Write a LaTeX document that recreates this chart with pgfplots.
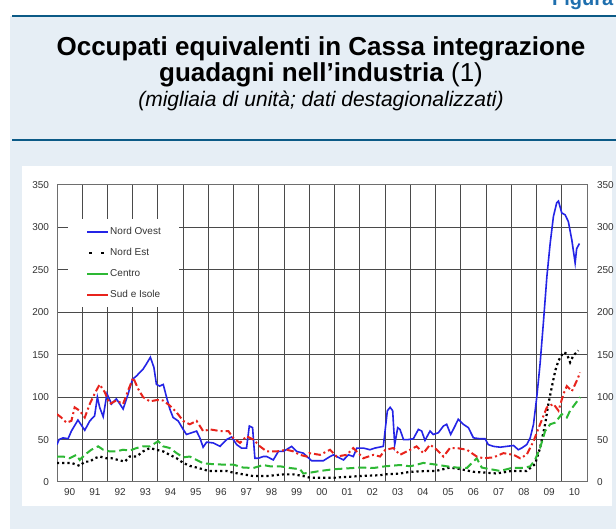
\documentclass[border=0pt]{standalone}
\usepackage{fontspec}
\setmainfont{Liberation Sans}
\usepackage{pgfplots}
\pgfplotsset{compat=1.18}
\definecolor{bgblue}{HTML}{E6EEF5}
\definecolor{rulec}{HTML}{0B5A86}
\definecolor{figblue}{HTML}{1F6FAE}
\definecolor{nordovest}{HTML}{2424E6}
\definecolor{centro}{HTML}{2DB834}
\definecolor{sud}{HTML}{E8231C}
\definecolor{gridc}{HTML}{4A4A4A}
\definecolor{labc}{HTML}{333333}

\begin{document}
\begin{tikzpicture}[x=1pt,y=1pt]
\useasboundingbox (0,0) rectangle (616,529);
\clip (0,0) rectangle (616,529);
\fill[white] (0,0) rectangle (616,529);
\fill[bgblue] (10,0) rectangle (616,513);
\draw[rulec, line width=2.2pt] (12,513) -- (616,513);
\draw[rulec, line width=2.2pt] (12,389) -- (616,389);
\fill[white] (22,23) rectangle (612,363);
\node[anchor=base west, inner sep=0pt, text=figblue, font=\fontsize{20}{22}\selectfont\bfseries] at (552,523) {Figura};

% titolo
\node[anchor=base, inner sep=0pt, font=\fontsize{26}{28}\selectfont\bfseries] at (321,473) {Occupati equivalenti in Cassa integrazione};
\node[anchor=base, inner sep=0pt, font=\fontsize{26}{28}\selectfont] at (321,447) {\textbf{guadagni nell’industria} (1)};
\node[anchor=base, inner sep=0pt, font=\fontsize{21}{24}\selectfont\itshape] at (321,422) {(migliaia di unità; dati destagionalizzati)};

\begin{axis}[
  at={(57pt,47pt)}, anchor=south west,
  scale only axis, width=530pt, height=297pt,
  xmin=1990, xmax=2011, ymin=0, ymax=350,
  xtick={1990,1991,...,2011}, xticklabels={},
  minor x tick num=3,
  extra x ticks={1990.5,1991.5,...,2010.5},
  extra x tick labels={90,91,92,93,94,95,96,97,98,99,00,01,02,03,04,05,06,07,08,09,10},
  extra x tick style={grid=none, major tick length=0pt},
  ytick={0,50,...,350},
  xmajorgrids, ymajorgrids,
  grid style={gridc, line width=1pt},
  axis line style={gridc!80, line width=1pt},
  tick style={gridc, line width=0.7pt},
  major tick length=0pt, minor tick length=2.5pt,
  tick align=inside, tick pos=left,
  ticklabel style={font=\fontsize{10}{12}\selectfont, text=labc},
  /pgf/number format/assume math mode=true,
  xticklabel style={yshift=-3pt},
  yticklabel style={xshift=-4.5pt},
  legend cell align=left,
  legend style={at={(0.0208,0.8855)}, anchor=north west, fill=white, draw=none,
    inner xsep=18pt, inner ysep=8pt, row sep=12pt, column sep=1pt,
    font=\fontsize{10}{12}\selectfont, text=labc,
    nodes={inner sep=0pt, text height=7pt, text depth=2pt}},
]
\addplot[nordovest, line width=1.6pt,
  legend image code/.code={\draw[solid, nordovest, line width=1.6pt] (0pt,0pt) -- (21pt,0pt);}]
coordinates {
(1990.00,44) (1990.08,50) (1990.24,52) (1990.44,51) (1990.57,60) (1990.83,73) (1991.10,61) (1991.30,72) (1991.49,78) (1991.60,100) (1991.69,88) (1991.83,77) (1991.98,104) (1992.16,92) (1992.35,98) (1992.49,92) (1992.62,86) (1992.82,104) (1992.99,121) (1993.15,125) (1993.28,129) (1993.41,133) (1993.54,139) (1993.70,147) (1993.84,135) (1993.94,115) (1994.07,113) (1994.21,115) (1994.34,100) (1994.47,86) (1994.60,76) (1994.80,72) (1995.00,62) (1995.13,56) (1995.33,58) (1995.53,60) (1995.66,52) (1995.79,41) (1995.93,47) (1996.19,46) (1996.46,42) (1996.72,50) (1996.92,53) (1997.12,44) (1997.31,40) (1997.51,40) (1997.62,66) (1997.75,64) (1997.84,28) (1997.98,28) (1998.17,30) (1998.31,30) (1998.57,26) (1998.77,36) (1998.97,36) (1999.30,42) (1999.50,36) (1999.76,34) (2000.09,25) (2000.55,25) (2000.82,30) (2000.95,32) (2001.22,28) (2001.35,26) (2001.55,32) (2001.74,30) (2001.88,40) (2002.14,40) (2002.40,38) (2002.60,40) (2002.93,42) (2003.09,84) (2003.20,88) (2003.30,84) (2003.38,44) (2003.50,64) (2003.59,62) (2003.73,50) (2003.92,50) (2004.12,51) (2004.32,62) (2004.45,60) (2004.58,49) (2004.78,60) (2004.91,56) (2005.11,58) (2005.31,66) (2005.44,68) (2005.60,56) (2005.77,66) (2005.90,74) (2006.10,68) (2006.30,64) (2006.50,52) (2006.76,51) (2006.96,51) (2007.09,44) (2007.29,42) (2007.56,41) (2007.82,42) (2008.09,43) (2008.28,38) (2008.41,40) (2008.61,44) (2008.75,52) (2008.88,68) (2009.01,100) (2009.14,139) (2009.27,187) (2009.41,242) (2009.54,281) (2009.67,313) (2009.80,329) (2009.87,331) (2010.00,317) (2010.13,315) (2010.26,307) (2010.40,285) (2010.53,258) (2010.59,275) (2010.70,281)
};
\addlegendentry{Nord Ovest}
\addplot[black, line width=2.2pt, dash pattern=on 2.2pt off 3pt,
  legend image code/.code={\draw[solid, black, line width=2.2pt] (2pt,0pt) -- (4.5pt,0pt) (14pt,0pt) -- (16.5pt,0pt);}]
coordinates {
(1990.00,22.5) (1990.24,22.5) (1990.57,22.5) (1990.90,19) (1991.10,24) (1991.30,24) (1991.49,28) (1991.69,30) (1991.96,28) (1992.16,28) (1992.42,26) (1992.69,24) (1992.88,30) (1993.15,30) (1993.41,36) (1993.68,40) (1993.94,38) (1994.21,36) (1994.47,32) (1994.74,28) (1995.00,22.5) (1995.26,19) (1995.53,17) (1995.79,15) (1995.99,13) (1996.32,13) (1996.72,13) (1996.98,11) (1997.38,9) (1997.78,7) (1998.31,7) (1998.97,9) (1999.37,9) (1999.76,7) (2000.03,5) (2000.95,5) (2002.01,7) (2002.80,8) (2003.01,9) (2003.59,10) (2004.00,12) (2004.65,13) (2005.01,13) (2005.57,17) (2006.01,15) (2006.50,12) (2007.00,11) (2007.42,10) (2008.01,13) (2008.61,13) (2008.94,21) (2009.14,40) (2009.34,68) (2009.47,92) (2009.60,111) (2009.74,131) (2009.87,143) (2010.07,153) (2010.20,151) (2010.33,141) (2010.46,149) (2010.66,155)
};
\addlegendentry{Nord Est}
\addplot[centro, line width=2pt, dash pattern=on 8pt off 4pt,
  legend image code/.code={\draw[solid, centro, line width=2pt] (0pt,0pt) -- (21pt,0pt);}]
coordinates {
(1990.00,30) (1990.24,30) (1990.50,28) (1990.77,32) (1990.90,26) (1991.10,32) (1991.36,38) (1991.63,42) (1991.83,38) (1992.09,36) (1992.35,36) (1992.62,38) (1992.88,37) (1993.15,40) (1993.41,42) (1993.68,42) (1994.01,48) (1994.21,42) (1994.47,40) (1994.74,34) (1995.00,29) (1995.26,30) (1995.53,26) (1995.79,22) (1996.19,21) (1996.59,20.5) (1996.98,20.5) (1997.38,17) (1997.78,16.5) (1998.17,20) (1998.44,18.5) (1998.84,18.5) (1999.23,16.5) (1999.63,15) (1999.76,10) (2000.03,11) (2000.42,13) (2000.95,15) (2001.48,16) (2002.01,17) (2002.54,16.5) (2003.01,18.5) (2003.59,20) (2004.00,18.5) (2004.52,22.5) (2005.01,20.5) (2005.44,18.5) (2005.84,17) (2006.24,16.5) (2006.63,28) (2006.83,17) (2007.00,16) (2007.56,13) (2008.01,16.5) (2008.48,16.5) (2008.75,18.5) (2008.94,26) (2009.14,40) (2009.34,60) (2009.54,68) (2009.74,70) (2010.00,80) (2010.20,76) (2010.33,84) (2010.53,92) (2010.73,100)
};
\addlegendentry{Centro}
\addplot[sud, line width=2pt, dash pattern=on 7pt off 3pt on 2pt off 3pt,
  legend image code/.code={\draw[solid, sud, line width=2pt] (0pt,0pt) -- (21pt,0pt);}]
coordinates {
(1990.00,80) (1990.17,76) (1990.37,70) (1990.57,72) (1990.70,88) (1990.90,84) (1991.10,76) (1991.30,92) (1991.49,104) (1991.69,115) (1991.89,106) (1992.09,92) (1992.35,96) (1992.62,92) (1992.82,108) (1993.02,123) (1993.21,110) (1993.41,100) (1993.68,95) (1993.94,96.5) (1994.21,96) (1994.47,90) (1994.74,82) (1995.00,72) (1995.26,68) (1995.53,72) (1995.79,60) (1996.06,62) (1996.46,60) (1996.79,60) (1996.98,52) (1997.25,46) (1997.51,54) (1997.78,50) (1998.04,42) (1998.31,36) (1998.70,36) (1999.10,38) (1999.37,36) (1999.63,32) (1999.89,30) (2000.00,34) (2000.42,32) (2000.82,38) (2001.08,30) (2001.48,32) (2001.74,40) (2002.14,28) (2002.54,32) (2002.80,30) (2003.01,38) (2003.33,40) (2003.59,32) (2003.99,38) (2004.25,42) (2004.52,34) (2004.78,44) (2005.05,38) (2005.31,30) (2005.57,40) (2005.84,40) (2006.24,38) (2006.63,30) (2006.90,28) (2007.29,29) (2007.69,34) (2008.09,32) (2008.35,28) (2008.61,32) (2008.88,48) (2009.14,68) (2009.41,88) (2009.67,92) (2009.87,84) (2010.07,104) (2010.20,113) (2010.40,107) (2010.59,119) (2010.73,129)
};
\addlegendentry{Sud e Isole}
\end{axis}

% etichette asse destro
\begin{axis}[
  at={(57pt,47pt)}, anchor=south west,
  scale only axis, width=530pt, height=297pt,
  xmin=1990, xmax=2011, ymin=0, ymax=350,
  hide x axis, axis line style={draw=none},
  ytick={0,50,...,350}, ytick pos=right, yticklabel pos=right,
  major tick length=0pt,
  ticklabel style={font=\fontsize{10}{12}\selectfont, text=labc},
  /pgf/number format/assume math mode=true,
  yticklabel style={anchor=west, xshift=6.5pt},
]
\addplot[draw=none] coordinates {(1990,0) (2011,350)};
\end{axis}
\end{tikzpicture}
\end{document}
